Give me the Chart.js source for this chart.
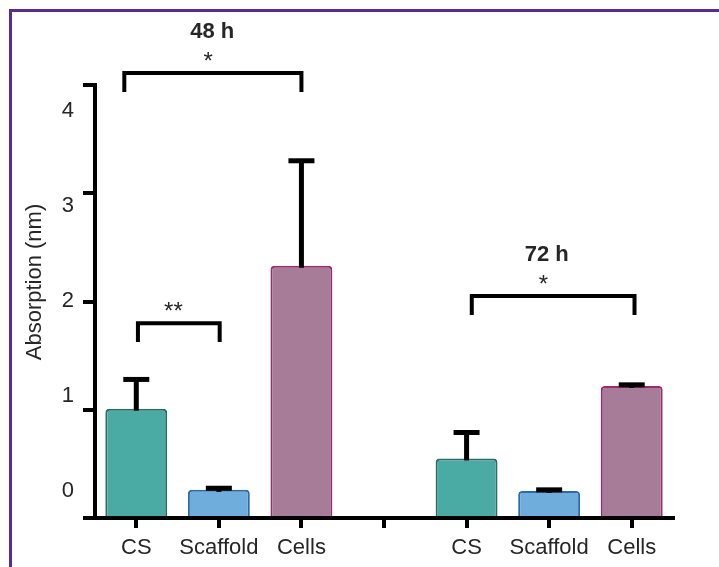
<!DOCTYPE html>
<html><head><meta charset="utf-8">
<script src="https://cdn.jsdelivr.net/npm/chart.js@4.4.0/dist/chart.umd.min.js"></script>
<style>
html,body{margin:0;padding:0;background:#fff;}
#wrap{position:relative;width:719px;height:567px;overflow:hidden;background:#fff;}
#frame{position:absolute;left:9px;top:9px;right:-10px;bottom:-10px;border-top:3px solid #5b2c8f;border-left:3px solid #5b2c8f;}
canvas{position:absolute;left:0;top:0;}
</style></head><body>
<div id="wrap"><div id="frame"></div><canvas id="c" width="719" height="567"></canvas></div>
<script>
// ---- data ----
const categories = ['CS', 'Scaffold', 'Cells', '', 'CS', 'Scaffold', 'Cells'];
const barValues = [1.01, 0.26, 2.33, null, 0.55, 0.25, 1.22];
const errorValues = [0.27, 0.015, 0.97, null, 0.24, 0.01, 0.01];
const yTickValues = [0, 1, 2, 3, 4];
const yTickLabels = ['0', '1', '2', '3', '4'];
const yAxisTitle = 'Absorption (nm)';
const groupTitles = ['48 h', '72 h'];
const significance = ['*', '**', '*'];

// ---- styling ----
const FONT = '"Liberation Sans", Arial, Helvetica, sans-serif';
const TEXT = '#262626';
const fillColors = ['#4aaba5', '#6eaddc', '#a67c98', null, '#4aaba5', '#6eaddc', '#a67c98'];
const edgeColors = ['#2b6b66', '#2d6ba3', '#9a2c6c', null, '#2b6b66', '#2d6ba3', '#9a2c6c'];

// brackets in data coordinates (x = category index, y = axis value)
const brackets = [
  { from: -0.145, to: 2.0, top: 4.11, leg: 3.935, star: 0, starX: 0.87, title: 0, titleX: 0.92 },
  { from: 0.02, to: 1.01, top: 1.80, leg: 1.625, star: 1, starX: 0.45 },
  { from: 4.063, to: 6.034, top: 2.05, leg: 1.875, star: 2, starX: 4.93, title: 1, titleX: 4.97 }
];

const overlay = {
  id: 'overlay',
  afterDatasetsDraw(chart) {
    const ctx = chart.ctx, xs = chart.scales.x, ys = chart.scales.y;
    const meta = chart.getDatasetMeta(0);
    ctx.save();
    // error bars
    ctx.strokeStyle = '#000';
    ctx.lineCap = 'butt';
    barValues.forEach((v, i) => {
      if (v == null || errorValues[i] == null) return;
      const x = meta.data[i].x;
      const yb = ys.getPixelForValue(v);
      const yt = ys.getPixelForValue(v + errorValues[i]);
      ctx.lineWidth = 5;
      ctx.beginPath(); ctx.moveTo(x, yb + 2); ctx.lineTo(x, yt); ctx.stroke();
      ctx.beginPath(); ctx.moveTo(x - 13, yt); ctx.lineTo(x + 13, yt); ctx.stroke();
    });
    // brackets
    ctx.lineWidth = 4;
    ctx.lineJoin = 'miter';
    ctx.lineCap = 'butt';
    const x0 = xs.getPixelForValue(0);
    const step = xs.getPixelForValue(1) - x0;
    brackets.forEach(b => {
      const x1 = x0 + step * b.from;
      const x2 = x0 + step * b.to;
      const yT = ys.getPixelForValue(b.top), yL = ys.getPixelForValue(b.leg);
      ctx.beginPath();
      ctx.moveTo(x1, yL); ctx.lineTo(x1, yT); ctx.lineTo(x2, yT); ctx.lineTo(x2, yL);
      ctx.stroke();
      ctx.fillStyle = TEXT;
      ctx.textAlign = 'center';
      ctx.textBaseline = 'alphabetic';
      ctx.font = '24px ' + FONT;
      ctx.fillText(significance[b.star], x0 + step * b.starX, yT - 4);
      if (b.title != null) {
        ctx.font = 'bold 22px ' + FONT;
        ctx.fillText(groupTitles[b.title], x0 + step * b.titleX, yT - 35);
      }
    });
    // y axis title
    ctx.translate(35, 282);
    ctx.rotate(-Math.PI / 2);
    ctx.font = '22px ' + FONT;
    ctx.textAlign = 'center';
    ctx.textBaseline = 'middle';
    ctx.fillStyle = TEXT;
    ctx.fillText(yAxisTitle, 0, 0);
    ctx.restore();
  }
};

new Chart(document.getElementById('c'), {
  type: 'bar',
  data: {
    labels: categories,
    datasets: [{
      data: barValues,
      backgroundColor: fillColors,
      borderColor: edgeColors,
      borderWidth: 2,
      borderRadius: 4,
      borderSkipped: 'bottom',
      barPercentage: 0.75,
      categoryPercentage: 1.0
    }]
  },
  options: {
    responsive: false,
    animation: false,
    devicePixelRatio: 1,
    layout: { padding: { left: 0, top: 85, right: 46, bottom: 0 } },
    plugins: { legend: { display: false }, tooltip: { enabled: false }, title: { display: false } },
    scales: {
      x: {
        type: 'category',
        offset: true,
        grid: { offset: false, drawOnChartArea: false, drawTicks: true, tickLength: 10, lineWidth: 4, color: '#000' },
        border: { display: true, color: '#000', width: 4 },
        ticks: { color: TEXT, font: { family: FONT, size: 22 }, padding: 7, maxRotation: 0, autoSkip: false },
        afterFit(s) { s.height = 49; }
      },
      y: {
        type: 'linear',
        position: 'left',
        weight: 0,
        min: 0, max: 4,
        grid: { drawOnChartArea: false, drawTicks: true, tickLength: 12, lineWidth: 4, color: '#000' },
        border: { display: true, color: '#000', width: 4 },
        ticks: { display: false, stepSize: 1 },
        afterBuildTicks(s) { s.ticks = yTickValues.map(v => ({ value: v })); },
        afterFit(s) { s.width = 12; }
      },
      yLabels: {
        type: 'linear',
        position: 'left',
        weight: 1,
        min: -0.287, max: 4.276,
        grid: { display: false, drawTicks: false },
        border: { display: false },
        ticks: {
          color: TEXT, font: { family: FONT, size: 22 }, padding: 9,
          callback: (v) => yTickLabels[yTickValues.indexOf(v)]
        },
        afterBuildTicks(s) { s.ticks = yTickValues.map(v => ({ value: v })); },
        afterFit(s) { s.width = 83; }
      }
    }
  },
  plugins: [overlay]
});
</script>
</body></html>
